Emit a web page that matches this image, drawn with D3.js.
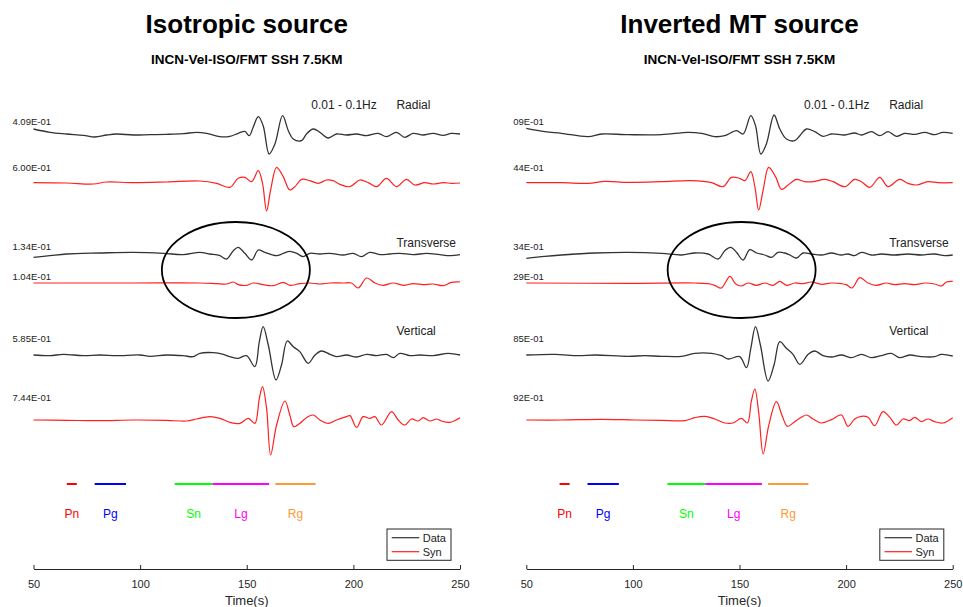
<!DOCTYPE html>
<html>
<head>
<meta charset="utf-8">
<script src="https://cdn.jsdelivr.net/npm/d3@7"></script>
<style>
  body { margin: 0; background: #fff; }
  svg text { font-family: "Liberation Sans", Helvetica, Arial, sans-serif; }
</style>
</head>
<body>
<div id="chart"></div>
<script>
// ---- chart data ----
const panelTitles = ["Isotropic source", "Inverted MT source"];
const subTitle = "INCN-Vel-ISO/FMT SSH 7.5KM";
const bandLabel = "0.01 - 0.1Hz";
const components = ["Radial", "Transverse", "Vertical"];
const xTicks = [50, 100, 150, 200, 250];

// phase windows (s)
const phaseNames = ["Pn", "Pg", "Sn", "Lg", "Rg"];
const phaseStart = [65.6, 78.7, 116.2, 134, 163.4];
const phaseEnd = [70.3, 93.4, 134, 160.5, 182.3];

// amplitude labels of each trace (MT panel labels are cut off in the original)
const isoAmpLabels = ["4.09E-01", "6.00E-01", "1.34E-01", "1.04E-01", "5.85E-01", "7.44E-01"];
const mtAmpLabels = ["09E-01", "44E-01", "34E-01", "29E-01", "85E-01", "92E-01"];

// trace baselines (plot units, downward) : R data, R syn, T data, T syn, Z data, Z syn
const traceOffsets = [132, 278, 492, 579, 795, 990];

// waveforms: [time (s), amplitude (plot units, up)]
const isoRadData = [[50,15],[57.7,5],[65.5,0],[73.4,-4],[78.8,-9],[84.3,-3],[89,0],[96.8,-3],[104.6,-2],[112.4,-1],[120.2,1],[126.5,5],[131.2,2],[137.4,-8],[142.1,-7],[146,2],[149.1,8],[151.2,-5],[153,20],[155.4,52],[157.7,25],[160.5,-60],[163.2,-30],[166.8,55],[169.5,10],[171.8,-15],[175.7,-20],[178,0],[181.2,15],[184.3,5],[188.2,-12],[192.1,0],[196.8,-3],[201.5,0],[206.2,-5],[211.6,2],[215.5,-8],[220.2,5],[224.1,-10],[228,2],[232.7,-3],[237.4,2],[242.1,-4],[246,2],[250,0]];
const isoRadSyn = [[50,0],[65.5,-1],[78.1,-4],[84.3,2],[96.8,0],[112.4,2],[128,5],[135.9,-2],[142.1,-14],[146,13],[149.1,16],[152.3,3],[155.4,36],[157.4,-2],[159.3,-85],[161.2,-22],[164,46],[167.1,18],[170.2,-22],[172.6,-12],[175.7,10],[179.6,6],[183.5,-2],[187.4,8],[190.5,6],[193.7,-5],[198.4,-12],[203,8],[207,0],[210.9,-12],[215.5,13],[220.2,-12],[224.9,10],[228.8,-7],[233.5,0],[237.4,-4],[242.1,0],[246,-2],[250,-1]];
const isoTanData = [[50,-10],[57.7,-5],[65.5,0],[81.2,3],[96.8,5],[110.9,2],[120.2,-2],[128,5],[132.7,0],[137.4,-5],[140.5,-15],[143.7,10],[146,20],[149.1,2],[152.3,-18],[155.4,12],[158.5,5],[164,-5],[167.1,2],[170.2,8],[173.4,2],[176.5,-8],[179.6,2],[184.3,0],[189,2],[195.2,-3],[199.9,2],[203.8,-8],[207.7,5],[212.4,-2],[217.1,0],[221.8,2],[228,-2],[234.3,2],[240.5,-2],[245.2,-5],[250,-2]];
const isoTanSyn = [[50,0],[96.8,0],[128,0],[135.9,-2],[140.5,-3],[143.7,3],[146,-5],[149.9,-7],[153,0],[157.7,-5],[162.4,-8],[167.1,2],[170.2,-7],[174.9,-2],[179.6,0],[184.3,-3],[189,0],[195.2,0],[199.1,0],[202.3,-15],[206.2,15],[210.1,0],[214,-7],[218.7,0],[223.4,-7],[228,-2],[232.7,-5],[237.4,-3],[242.1,-8],[246,2],[250,3]];
const isoVerData = [[50,0],[57.7,-2],[64,2],[73.4,-2],[81.2,0],[89,-2],[99.9,0],[104.6,-4],[112.4,0],[120.2,-2],[124.9,-5],[128,5],[134.3,7],[139,2],[142.1,-5],[146,-10],[149.9,-2],[153.8,-35],[155.9,40],[157.7,85],[160.1,30],[163.7,-75],[166.3,-30],[169,42],[171.8,25],[174.9,10],[178.8,-25],[182,0],[185.1,12],[189,2],[192.1,-5],[196.8,0],[201.5,-6],[206.2,2],[210.9,-2],[215.5,2],[218.7,-8],[221.8,5],[226.5,-2],[231.2,0],[237.4,-2],[244.5,5],[250,0]];
const isoVerSyn = [[50,0],[65.5,-1],[81.2,-2],[96.8,0],[112.4,-1],[121.8,-3],[126.5,3],[132.7,10],[137.4,5],[142.1,-7],[146.8,-10],[150.7,5],[153.8,-10],[155.9,65],[157.4,100],[159.3,35],[161.2,-105],[164,-15],[167.9,57],[170.2,15],[172.1,-20],[174.9,-10],[178,7],[181.2,15],[184.3,0],[188.2,-10],[192.1,0],[196.8,10],[198.4,13],[201.5,-22],[204.6,10],[207.7,5],[210.1,10],[213.2,-15],[217.9,25],[221,0],[224.1,-15],[227.3,3],[230.4,-3],[232.7,7],[235.9,-3],[239,3],[241.3,-3],[245.2,-7],[250,7]];

const mtRadData = [[50,17],[58.7,7],[66.5,2],[79,-8],[85.3,0],[97.8,-2],[113.4,-2],[125.9,5],[132.2,2],[138.4,-8],[143.1,-5],[148.6,10],[151.7,0],[155.3,55],[157.5,25],[160,-60],[162.6,-30],[166.2,57],[168.9,15],[172,-15],[175.9,-20],[178.3,-5],[181.4,15],[185.3,7],[189.2,-7],[193.1,0],[199.4,-3],[204,3],[207.2,-3],[211.9,7],[215.8,-5],[219.7,7],[223.6,-7],[227.5,2],[232.2,-1],[236.9,5],[241.5,-2],[245.4,5],[250,2]];
const mtRadSyn = [[50,0],[66.5,0],[79,-2],[86.9,4],[97.8,1],[113.4,3],[127.5,6],[136.9,0],[142.3,-12],[146.2,16],[150.1,13],[152.5,6],[155.3,33],[157.2,-12],[159,-82],[161.1,-22],[163.7,46],[166.9,18],[169.7,-20],[172.8,-7],[176.7,10],[180.6,3],[184.5,3],[190,10],[193.9,3],[199.4,-12],[204,10],[207.2,3],[211.1,-14],[215.8,16],[219.7,-12],[225.1,10],[229,-2],[233,-7],[238.4,3],[243.1,0],[250,0]];
const mtTanData = [[50,-13],[58.7,-7],[66.5,-3],[82.2,3],[97.8,5],[113.4,2],[122.8,-3],[129,3],[135.3,0],[140,-15],[143.1,10],[145.9,20],[148.6,5],[151.7,-18],[154.8,13],[158,3],[161.9,-3],[165,-10],[168.1,5],[171.2,3],[173.6,-3],[176.7,-12],[179.8,3],[183.7,0],[188.4,-3],[193.1,3],[197.8,-3],[200.9,0],[204,-5],[207.2,5],[211.9,-3],[216.5,0],[222.8,-3],[229,0],[235.3,-3],[241.5,0],[246.2,-5],[250,-3]];
const mtTanSyn = [[50,0],[97.8,-1],[129,0],[135.3,-2],[138.4,-7],[141.5,-15],[145.5,20],[148.1,-2],[150.9,-9],[154,0],[158,-7],[161.9,0],[165.8,-7],[168.9,5],[172,-7],[175.9,0],[179.8,-2],[183.7,3],[188.4,-4],[193.1,0],[197.8,-2],[200.1,-5],[202.8,-15],[206.4,16],[210.3,0],[214.2,-7],[218.9,0],[222.8,-5],[227.5,-2],[232.2,-5],[236.9,0],[241.5,-3],[244.7,-9],[247,3],[250,5]];
const mtVerData = [[50,0],[63.4,2],[74.4,-2],[82.2,0],[97.8,-4],[105.6,-2],[113.4,-4],[122.8,-4],[129,5],[136.9,5],[141.5,-2],[144.7,-12],[150.1,-5],[153.3,-38],[155.3,20],[157.5,85],[159.8,30],[163.4,-78],[166.2,-30],[168.9,40],[172,20],[175.1,2],[178.3,-28],[182.2,2],[185.3,12],[189.2,-2],[193.1,-6],[197.8,0],[202.5,-8],[207.2,2],[211.9,-8],[216.5,-2],[221.2,5],[225.1,-8],[229.8,0],[235.3,-5],[241.5,-5],[244.7,2],[250,-3]];
const mtVerSyn = [[50,0],[66.5,0],[85.3,2],[100.9,0],[113.4,-1],[124.4,-2],[129,7],[133.7,11],[138.4,3],[143.1,-9],[147,-9],[150.9,5],[153.7,-9],[155.6,58],[157.2,93],[159,23],[161.1,-102],[163.7,-17],[167.3,55],[170,13],[172.5,-19],[175.9,-5],[179,8],[181.4,15],[184.5,3],[188.4,-9],[193.1,1],[197.8,15],[200.9,-19],[204,3],[207.2,11],[210.3,8],[213.4,-17],[217.3,25],[220.5,8],[223.6,-15],[226.7,3],[229.8,-2],[232.2,8],[235.3,-5],[238.4,3],[241.5,-5],[245.4,-9],[250,7]];

// circled window (centre time per panel, half width in s, centre / half height in plot units)
const ellipseCenterT = [144.9, 151.0];
const ellipseHalfT = 34.7;
const ellipseCenterY = 540;
const ellipseHalfY = 144;

// ---- layout / style ----
const width = 963;
const height = 607;
const panelRanges = [[33.5, 460], [526.3, 952.7]];
const traceColors = ["#333333", "#ff2020"];
const phaseColors = ["#ff0000", "#0000ff", "#00ff00", "#ff00ff", "#ff9933"];
const labelRise = [12, 15, 7, 6, 16, 22];   // px above trace baseline
const compLabelT = 220.2;
const bandLabelT = 180.3;
const compLabelY = [45, 459, 722];
const phaseBarY = 1182;
const phaseTextY = 1272;
const axisY = 569;
const axisColor = "#262626";

const svg = d3
  .select("#chart")
  .append("svg")
  .attr("width", width)
  .attr("height", height);

// vertical position of traces, shared by both panels
const y = d3.scaleLinear().domain([0, 1440]).range([90, 570]);

const panels = [
  {
    title: panelTitles[0],
    traces: [isoRadData, isoRadSyn, isoTanData, isoTanSyn, isoVerData, isoVerSyn],
    ampLabels: isoAmpLabels,
  },
  {
    title: panelTitles[1],
    traces: [mtRadData, mtRadSyn, mtTanData, mtTanSyn, mtVerData, mtVerSyn],
    ampLabels: mtAmpLabels,
  },
];

panels.forEach((p, pi) => {
  const x = d3.scaleLinear().domain([50, 250]).range(panelRanges[pi]);
  const g = svg.append("g");
  const x0 = x(50);
  const xm = (x(50) + x(250)) / 2;

  // titles
  g.append("text")
    .attr("x", xm)
    .attr("y", 32.5)
    .attr("text-anchor", "middle")
    .style("font-size", "26px")
    .style("font-weight", "bold")
    .text(p.title);
  g.append("text")
    .attr("x", xm)
    .attr("y", 64)
    .attr("text-anchor", "middle")
    .style("font-size", "13.5px")
    .style("font-weight", "bold")
    .text(subTitle);

  // waveforms
  p.traces.forEach((tr, ti) => {
    const off = traceOffsets[ti];
    const line = d3
      .line()
      .x((d) => x(d[0]))
      .y((d) => y(off - d[1]))
      .curve(d3.curveCatmullRom.alpha(0.5));
    g.append("path")
      .datum(tr)
      .attr("d", line)
      .attr("fill", "none")
      .attr("stroke", traceColors[ti % 2])
      .attr("stroke-width", ti % 2 ? 1.2 : 1.3)
      .attr("stroke-linejoin", "round");

    g.append("text")
      .attr("x", x0 + 17.5)
      .attr("y", y(off) - labelRise[ti])
      .attr("dy", "0.35em")
      .attr("text-anchor", "end")
      .style("font-size", "9.5px")
      .style("fill", "#222")
      .text(p.ampLabels[ti]);
  });

  // component labels
  g.append("text")
    .attr("x", x(bandLabelT))
    .attr("y", y(compLabelY[0]))
    .attr("dy", "0.35em")
    .style("font-size", "12px")
    .style("fill", "#222")
    .text(bandLabel);
  components.forEach((c, ci) => {
    g.append("text")
      .attr("x", x(compLabelT))
      .attr("y", y(compLabelY[ci]))
      .attr("dy", "0.35em")
      .style("font-size", "12px")
      .style("fill", "#222")
      .text(c);
  });

  // circled transverse window
  const ec = ellipseCenterT[pi];
  g.append("ellipse")
    .attr("cx", x(ec))
    .attr("cy", y(ellipseCenterY))
    .attr("rx", x(ec + ellipseHalfT) - x(ec))
    .attr("ry", y(ellipseCenterY + ellipseHalfY) - y(ellipseCenterY))
    .attr("fill", "none")
    .attr("stroke", "#000")
    .attr("stroke-width", 1.8);

  // phase windows
  phaseNames.forEach((ph, i) => {
    g.append("line")
      .attr("x1", x(phaseStart[i]))
      .attr("x2", x(phaseEnd[i]))
      .attr("y1", y(phaseBarY))
      .attr("y2", y(phaseBarY))
      .attr("stroke", phaseColors[i])
      .attr("stroke-width", 2);
    g.append("text")
      .attr("x", x((phaseStart[i] + phaseEnd[i]) / 2))
      .attr("y", y(phaseTextY))
      .attr("dy", "0.35em")
      .attr("text-anchor", "middle")
      .style("font-size", "12px")
      .style("fill", phaseColors[i])
      .text(ph);
  });

  // legend
  const lg = g.append("g").attr("transform", `translate(${x0 + 353.5},529)`);
  lg.append("rect")
    .attr("width", 64)
    .attr("height", 31.3)
    .attr("fill", "#fff")
    .attr("stroke", axisColor)
    .attr("stroke-width", 1);
  ["Data", "Syn"].forEach((name, i) => {
    lg.append("line")
      .attr("x1", 4.7)
      .attr("x2", 32.3)
      .attr("y1", 8.7 + i * 14)
      .attr("y2", 8.7 + i * 14)
      .attr("stroke", traceColors[i])
      .attr("stroke-width", 1.2);
    lg.append("text")
      .attr("x", 35.7)
      .attr("y", 8.7 + i * 14)
      .attr("dy", "0.35em")
      .style("font-size", "11px")
      .style("fill", "#222")
      .text(name);
  });

  // x axis
  const ax = g
    .append("g")
    .attr("transform", `translate(0,${axisY})`)
    .call(
      d3.axisBottom(x)
        .tickValues(xTicks)
        .tickSizeInner(-4)
        .tickSizeOuter(0)
        .tickPadding(11)
    );
  ax.select(".domain").attr("stroke", axisColor);
  ax.selectAll(".tick line").attr("stroke", axisColor);
  ax.selectAll(".tick text")
    .style("font-size", "11px")
    .style("font-family", '"Liberation Sans", Helvetica, Arial, sans-serif')
    .attr("fill", axisColor);

  g.append("text")
    .attr("x", xm)
    .attr("y", 605)
    .attr("text-anchor", "middle")
    .style("font-size", "13px")
    .style("fill", axisColor)
    .text("Time(s)");
});
</script>
</body>
</html>
